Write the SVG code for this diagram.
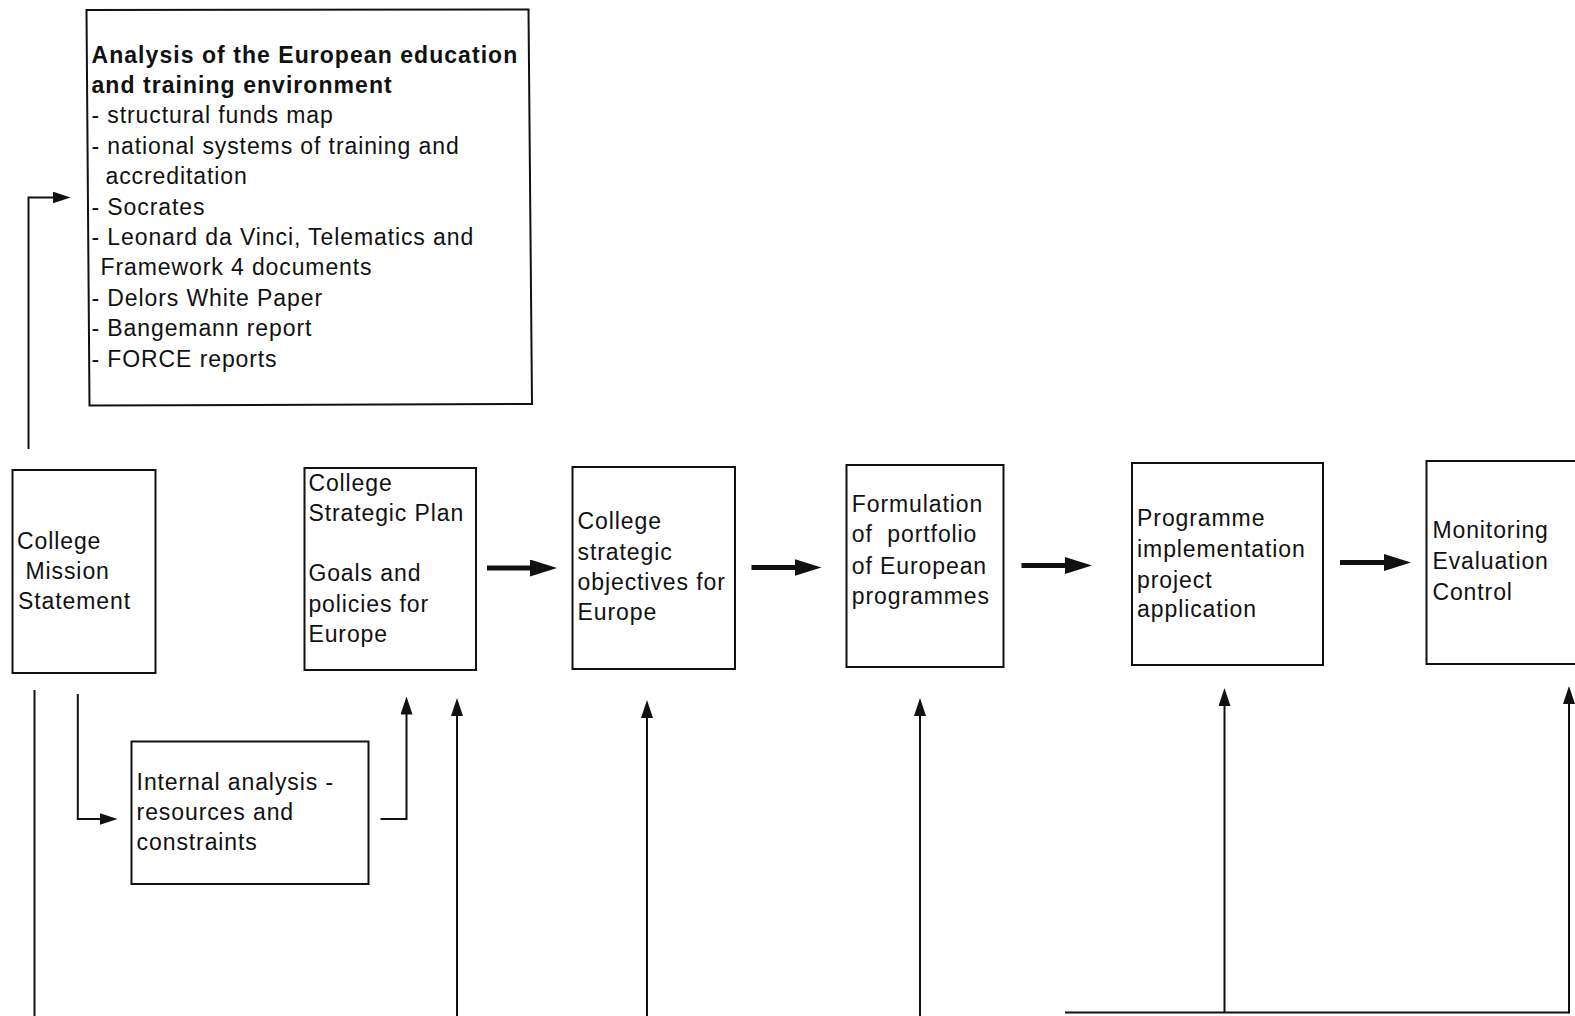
<svg xmlns="http://www.w3.org/2000/svg" width="1575" height="1016" viewBox="0 0 1575 1016">
  <style>
    .box { fill: #fff; stroke: #111; stroke-width: 2; }
    .t { font-family: "Liberation Sans", Arial, Helvetica, sans-serif; font-size: 23px; letter-spacing: 0.9px; fill: #111; }
    .b { font-weight: bold; letter-spacing: 1.05px; }
    .ln { fill: none; stroke: #111; stroke-width: 2; }
    .thick { fill: none; stroke: #111; stroke-width: 5; }
  </style>
  <defs>
    <marker id="head" markerUnits="userSpaceOnUse" markerWidth="18" markerHeight="12" refX="14" refY="6" orient="auto">
      <path d="M0,0 L18,6 L0,12 z" fill="#111"/>
    </marker>
    <marker id="bigHead" markerUnits="userSpaceOnUse" markerWidth="27" markerHeight="17" refX="7" refY="8.5" orient="auto">
      <path d="M0,0 L27,8.5 L0,17 z" fill="#111"/>
    </marker>
  </defs>

  <rect width="1575" height="1016" fill="#fff"/>

  <!-- External environment analysis -->
  <g id="node-analysis">
    <polygon class="box" points="86.5,10 528.5,9.5 532,404 89.5,405.5"/>
    <text class="t b" x="91.5" y="62.5">Analysis of the European education</text>
    <text class="t b" x="91.5" y="92.9">and training environment</text>
    <text class="t" x="91.5" y="123.3">- structural funds map</text>
    <text class="t" x="91.5" y="153.7">- national systems of training and</text>
    <text class="t" x="105.5" y="184.1">accreditation</text>
    <text class="t" x="91.5" y="214.5">- Socrates</text>
    <text class="t" x="91.5" y="244.9">- Leonard da Vinci, Telematics and</text>
    <text class="t" x="100.5" y="275.3">Framework 4 documents</text>
    <text class="t" x="91.5" y="305.7">- Delors White Paper</text>
    <text class="t" x="91.5" y="336.1">- Bangemann report</text>
    <text class="t" x="91.5" y="366.5">- FORCE reports</text>
  </g>

  <g id="node-mission">
    <rect class="box" x="12.5" y="470" width="143" height="203"/>
    <text class="t" x="17" y="548.5">College</text>
    <text class="t" x="25.5" y="578.6">Mission</text>
    <text class="t" x="18" y="608.7">Statement</text>
  </g>

  <g id="node-strategic-plan">
    <rect class="box" x="304.5" y="468" width="171.5" height="202"/>
    <text class="t" x="308.4" y="491.2">College</text>
    <text class="t" x="308.4" y="521.3">Strategic Plan</text>
    <text class="t" x="308.4" y="580.6">Goals and</text>
    <text class="t" x="308.4" y="611.7">policies for</text>
    <text class="t" x="308.4" y="641.9">Europe</text>
  </g>

  <g id="node-objectives">
    <rect class="box" x="572.5" y="467" width="162.5" height="202"/>
    <text class="t" x="577.6" y="529.4">College</text>
    <text class="t" x="577.6" y="559.5">strategic</text>
    <text class="t" x="577.6" y="589.6">objectives for</text>
    <text class="t" x="577.6" y="619.8">Europe</text>
  </g>

  <g id="node-portfolio">
    <rect class="box" x="846.5" y="465" width="157" height="202"/>
    <text class="t" x="851.8" y="512.3">Formulation</text>
    <text class="t" x="851.8" y="542.4" xml:space="preserve">of  portfolio</text>
    <text class="t" x="851.8" y="573.6">of European</text>
    <text class="t" x="851.8" y="603.7">programmes</text>
  </g>

  <g id="node-implementation">
    <rect class="box" x="1132" y="463" width="191" height="202"/>
    <text class="t" x="1137.1" y="526.4">Programme</text>
    <text class="t" x="1137.1" y="556.5">implementation</text>
    <text class="t" x="1137.1" y="587.6">project</text>
    <text class="t" x="1137.1" y="616.8">application</text>
  </g>

  <g id="node-monitoring">
    <rect class="box" x="1426.5" y="461" width="200" height="203"/>
    <text class="t" x="1432.4" y="538.4">Monitoring</text>
    <text class="t" x="1432.4" y="568.5">Evaluation</text>
    <text class="t" x="1432.4" y="599.7">Control</text>
  </g>

  <g id="node-internal">
    <rect class="box" x="131.5" y="741.5" width="237" height="142.5"/>
    <text class="t" x="136.6" y="789.5">Internal analysis -</text>
    <text class="t" x="136.6" y="819.7">resources and</text>
    <text class="t" x="136.6" y="849.8">constraints</text>
  </g>

  <g id="connectors">
    <!-- main flow -->
    <line class="thick" x1="487" y1="568" x2="537" y2="568" marker-end="url(#bigHead)"/>
    <line class="thick" x1="751.5" y1="567.5" x2="801.5" y2="567.5" marker-end="url(#bigHead)"/>
    <line class="thick" x1="1021.5" y1="565.5" x2="1072" y2="565.5" marker-end="url(#bigHead)"/>
    <line class="thick" x1="1340" y1="562.5" x2="1391" y2="562.5" marker-end="url(#bigHead)"/>

    <!-- mission to environment analysis -->
    <polyline class="ln" points="28.5,449 28.5,197.5 66.5,197.5" marker-end="url(#head)"/>
    <!-- mission to internal analysis -->
    <polyline class="ln" points="77.8,694 77.8,819 113.5,819" marker-end="url(#head)"/>
    <!-- internal analysis to strategic plan -->
    <polyline class="ln" points="380.5,819 406.5,819 406.5,700.5" marker-end="url(#head)"/>

    <!-- feedback lines from below -->
    <line class="ln" x1="34.5" y1="690" x2="34.5" y2="1016"/>
    <line class="ln" x1="457" y1="1016" x2="457" y2="702" marker-end="url(#head)"/>
    <line class="ln" x1="647" y1="1016" x2="647" y2="704" marker-end="url(#head)"/>
    <line class="ln" x1="920" y1="1016" x2="920" y2="702" marker-end="url(#head)"/>
    <polyline class="ln" points="1065,1012.5 1569,1012.5"/>
    <line class="ln" x1="1224.5" y1="1012.5" x2="1224.5" y2="692" marker-end="url(#head)"/>
    <line class="ln" x1="1569" y1="1013.5" x2="1569" y2="690" marker-end="url(#head)"/>
  </g>
</svg>
